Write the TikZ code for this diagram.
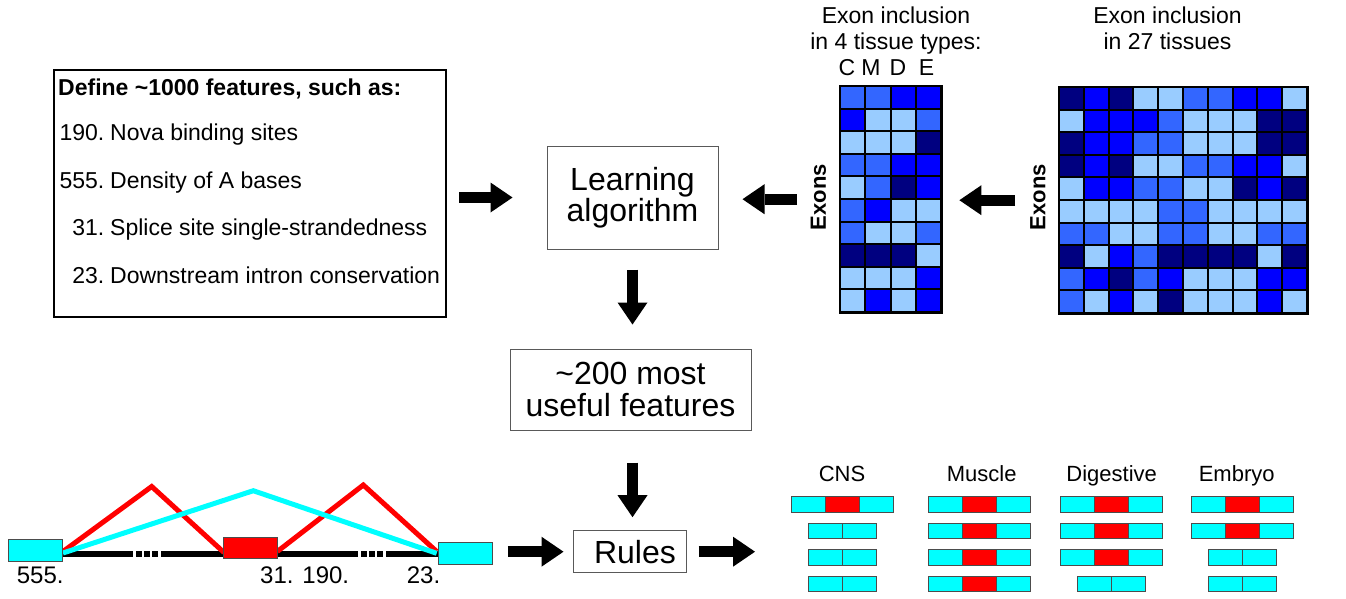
\documentclass[tikz,border=0pt]{standalone}
\usepackage{fontspec}
\setmainfont{Liberation Sans}
\usetikzlibrary{arrows.meta,calc}

\definecolor{cD}{RGB}{0,0,128}
\definecolor{cB}{RGB}{0,0,255}
\definecolor{cM}{RGB}{51,102,255}
\definecolor{cL}{RGB}{153,204,255}
\definecolor{exoncyan}{RGB}{0,255,255}
\definecolor{exonred}{RGB}{255,0,0}

\tikzset{
  fsA/.style={font=\fontsize{23}{27}\selectfont},
  fsB/.style={font=\fontsize{22}{26}\selectfont},
  fsT/.style={font=\fontsize{23}{26}\selectfont},
  fsC/.style={font=\fontsize{24}{28}\selectfont},
  lbl/.style={inner sep=0pt, anchor=base},
  stepbox/.style={draw=black!65, line width=1pt, align=center, inner sep=0pt},
  bigarrow/.style={line width=11pt, -{Triangle[width=30pt,length=22pt,line width=0pt]}},
  cell/.style={draw=black, line width=2pt},
  gridframe/.style={draw=black, line width=2.5pt},
  exonc/.style={fill=exoncyan, draw=black!70, line width=0.8pt},
  exonr/.style={fill=exonred, draw=black!70, line width=0.8pt},
  intron/.style={line width=6pt, black},
  splice/.style={line width=5pt, line join=miter},
}

\begin{document}
\begin{tikzpicture}[x=1pt,y=-1pt]
\useasboundingbox (0,0) rectangle (1346,598);
\fill[white] (0,0) rectangle (1346,598);

% ---- feature list ----
\node[draw=black, line width=2pt, minimum width=392pt, minimum height=247pt,
      anchor=north west, inner sep=0pt] (feat) at (53,69) {};
\node[lbl, anchor=base west, font=\bfseries\fontsize{23}{27}\selectfont] (ftitle) at (58,95)
  {Define \textasciitilde1000 features, such as:};
\foreach \n/\t/\y [count=\i] in {190./Nova binding sites/140,
                                 555./Density of A bases/188,
                                 31./Splice site single-strandedness/235.5,
                                 23./Downstream intron conservation/283} {
  \node[lbl, anchor=base east, fsA] (fnum\i) at (104.5,\y) {\n};
  \node[lbl, anchor=base west, fsA] (ftxt\i) at (110,\y) {\t};
}

% ---- processing steps ----
\node[stepbox, minimum width=171pt, minimum height=103pt,
      font=\fontsize{32}{27}\selectfont] (learn) at (632.5,197.5) {Learning\\algorithm};
\node[stepbox, minimum width=241pt, minimum height=81pt,
      font=\fontsize{32}{32}\selectfont] (useful) at (630.5,389.5)
  {\textasciitilde200 most\\useful features};
\node[stepbox, minimum width=113pt, minimum height=42pt,
      font=\fontsize{32}{32}\selectfont] (rules) at (629.5,551.7) {\hspace*{11pt}Rules};

% ---- inclusion tables ----
\node[inner sep=0pt, minimum width=101pt, minimum height=226pt, anchor=north west] (tis4) at (840,86) {};
\foreach \row [count=\r from 0] in {{M,M,B,B},{B,L,L,M},{L,L,L,D},{M,M,B,B},{L,M,D,B},
                                    {M,B,L,L},{M,L,L,M},{D,D,D,L},{L,L,L,B},{L,B,L,B}}
  \foreach \c [count=\k from 0] in \row
    \filldraw[cell, fill=c\c] ([shift={(\k*25.25,\r*22.6)}]tis4.north west) rectangle ++(25.25,22.6);
\draw[gridframe] (tis4.north west) rectangle (tis4.south east);

\node[inner sep=0pt, minimum width=248pt, minimum height=226pt, anchor=north west] (tis27) at (1059,87) {};
\foreach \row [count=\r from 0] in {{D,B,D,L,L,M,M,B,B,L},{L,B,B,B,M,L,L,L,D,D},
                                    {D,B,B,M,M,L,L,L,D,D},{D,B,D,L,L,M,M,B,B,L},
                                    {L,B,B,M,M,L,L,D,B,D},{L,L,L,L,M,M,L,L,L,L},
                                    {M,M,L,L,M,M,L,L,M,M},{D,L,B,M,D,D,D,D,L,D},
                                    {M,B,D,M,B,L,L,L,B,B},{M,L,B,L,D,L,L,L,B,L}}
  \foreach \c [count=\k from 0] in \row
    \filldraw[cell, fill=c\c] ([shift={(\k*24.8,\r*22.6)}]tis27.north west) rectangle ++(24.8,22.6);
\draw[gridframe] (tis27.north west) rectangle (tis27.south east);

\node[lbl, fsT] (hd4a) at (896,23) {Exon inclusion};
\node[lbl, fsT] (hd4b) at (896,49) {in 4 tissue types:};
\foreach \L/\x in {C/847,M/871,D/898,E/926.5}
  \node[lbl, fsT] (col\L) at (\x,75) {\L};
\node[lbl, fsT] (hd27a) at (1167.5,23) {Exon inclusion};
\node[lbl, fsT] (hd27b) at (1167.5,49) {in 27 tissues};

\node[rotate=90, inner sep=0pt, font=\bfseries\fontsize{22}{26}\selectfont] (ex4) at (818.5,197) {Exons};
\node[rotate=90, inner sep=0pt, font=\bfseries\fontsize{22}{26}\selectfont] (ex27) at (1038,197) {Exons};

% ---- gene model ----
\draw[intron] (62,553.5) -- (133,553.5);
\foreach \a in {136,144,152} \draw[intron] (\a,553.5) -- ++(5.5,0);
\draw[intron] (161,553.5) -- (224,553.5);
\draw[intron] (276,553.5) -- (358,553.5);
\foreach \a in {361,369,377} \draw[intron] (\a,553.5) -- ++(5.5,0);
\draw[intron] (386,553.5) -- (438,553.5);

\draw[splice, exonred] (63,551.5) -- (151.7,486.5) -- (224,552.5);
\draw[splice, exonred] (277.3,551.5) -- (363.3,485) -- (436.7,551.5);
\draw[splice, exoncyan] (63,553) -- (253.3,490.7) -- (436.7,553.3);

\node[exonc, minimum width=54pt, minimum height=22pt, inner sep=0pt, anchor=north west] (exup) at (8,539) {};
\node[exonr, minimum width=54pt, minimum height=21pt, inner sep=0pt, anchor=north west] (exmid) at (223,537) {};
\node[exonc, minimum width=54pt, minimum height=22pt, inner sep=0pt, anchor=north west] (exdn) at (438,542) {};

\node[lbl, anchor=base west, fsC] (l555) at (16.7,583.3) {555.};
\node[lbl, anchor=base west, fsC] (l31) at (260,583.3) {31. 190.};
\node[lbl, anchor=base west, fsC] (l23) at (406.7,583.3) {23.};

% ---- predicted inclusion per tissue ----
\foreach \name/\x [count=\g] in {CNS/842,Muscle/981.7,Digestive/1111.7,Embryo/1236.7}
  \node[lbl, fsB] (grp\g) at (\x,481.7) {\name};
\foreach \gx/\r/\t in {842.5/0/3,842.5/1/2,842.5/2/2,842.5/3/2,
                       979.5/0/3,979.5/1/3,979.5/2/3,979.5/3/3,
                       1111/0/3,1111/1/3,1111/2/3,1111/3/2,
                       1242/0/3,1242/1/3,1242/2/2,1242/3/2} {
  \pgfmathsetmacro{\yc}{504.5+\r*26.5}
  \ifnum\t=3
    \filldraw[exonc] (\gx-51,\yc-7.75) rectangle (\gx-17,\yc+7.75);
    \filldraw[exonr] (\gx-17,\yc-7.75) rectangle (\gx+17,\yc+7.75);
    \filldraw[exonc] (\gx+17,\yc-7.75) rectangle (\gx+51,\yc+7.75);
  \else
    \filldraw[exonc] (\gx-34,\yc-7.75) rectangle (\gx,\yc+7.75);
    \filldraw[exonc] (\gx,\yc-7.75) rectangle (\gx+34,\yc+7.75);
  \fi
}

% ---- block arrows ----
\draw[bigarrow, shorten <=12pt, shorten >=34pt] (learn.west -| feat.east) -- (learn.west);
\draw[bigarrow, shorten <=43pt, shorten >=24pt] (tis4.west) -- (learn.east |- tis4.west);
\draw[bigarrow, shorten <=44pt, shorten >=18pt] (tis27.west) -- (tis4.east |- tis27.west);
\draw[bigarrow, shorten <=20pt, shorten >=24pt] (learn.south) -- (useful.north -| learn.south);
\draw[bigarrow, shorten <=32pt, shorten >=13pt] (useful.south -| learn.south) -- (rules.north -| learn.south);
\draw[bigarrow, shorten <=15pt, shorten >=9pt] (exdn.east |- rules.west) -- (rules.west);
\coordinate (outcome) at (755,551.7);
\draw[bigarrow, shorten <=12pt] (rules.east) -- (outcome);
\end{tikzpicture}
\end{document}
